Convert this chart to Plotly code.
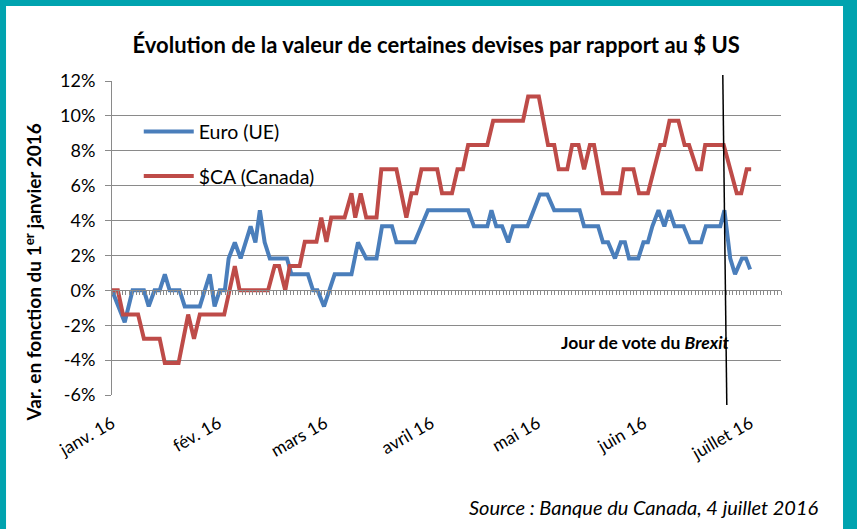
import plotly.graph_objects as go

# ---- data (days since 1 Jan 2016, % change vs 1 Jan 2016) ----
euro_jour = [0, 3.7, 6, 9.3, 10.7, 12.4, 13.9, 15.4, 16.8, 19.7, 21.2, 25.6, 28.5, 29.9, 31.4, 32.9,
             34, 35.8, 37.5, 40.4, 41.8, 43.1, 44.5, 46, 51, 52.3, 57.1, 58.6, 59.9, 61.8, 64.9, 69.8,
             71.7, 74.1, 77.1, 78.7, 81.6, 82.9, 88.2, 92.1, 103.8, 105.5, 109.4, 110.6, 112, 113.7,
             115.5, 116.9, 121.1, 124.7, 126.9, 128.9, 136.3, 137.6, 141.7, 143.1, 144.6, 146.6, 148.3,
             149.5, 150.7, 153.4, 154.9, 156.2, 157.5, 159.3, 161, 162.4, 164, 166.6, 168.5, 171.7,
             173.1, 177.3, 178.5, 180.2, 181.6, 183.6, 184.8, 186]
euro_var = [0, -1.83, 0, 0, -0.92, 0, 0, 0.92, 0, 0, -0.92, -0.92, 0.92, -0.92, 0, 0,
            1.83, 2.75, 1.83, 3.67, 2.75, 4.59, 2.75, 1.83, 1.83, 0.92, 0.92, 0, 0, -0.92, 0.92, 0.92,
            2.75, 1.83, 1.83, 3.67, 3.67, 2.75, 2.75, 4.59, 4.59, 3.67, 3.67, 4.59, 3.67, 3.67,
            2.75, 3.67, 3.67, 5.5, 5.5, 4.59, 4.59, 3.67, 3.67, 2.75, 2.75, 1.83, 2.75,
            2.75, 1.83, 1.83, 2.75, 2.75, 3.67, 4.59, 3.67, 4.59, 3.67, 3.67, 2.75, 2.75,
            3.67, 3.67, 4.59, 1.83, 0.92, 1.83, 1.83, 1.2]

cad_jour = [0, 1.7, 3.2, 7.6, 9.3, 13.9, 15.4, 19.4, 22.2, 23.9, 25.6, 32.7, 35.8, 37.2, 45.5, 47.4,
            48.7, 50.5, 51.8, 54.7, 56.2, 59.6, 61, 62.5, 63.9, 67.8, 69.8, 70.9, 72.5, 74.1, 77.1,
            78.5, 82.9, 85.8, 87.3, 88.7, 90.2, 94.8, 96.2, 99.1, 100.7, 102.3, 103.8, 109.4, 111.1,
            119.8, 121.3, 124.4, 127.1, 128.9, 130.2, 132.7, 134.1, 136, 137.6, 139.3, 140.5, 143.1,
            148, 149.1, 152, 153.6, 156.2, 159.8, 161, 162.5, 165.1, 166.9, 168.2, 170.5, 171.7,
            172.9, 178.3, 180.2, 182.1, 183.4, 185, 186.3]
cad_var = [0, 0, -1.39, -1.39, -2.78, -2.78, -4.17, -4.17, -1.39, -2.78, -1.39, -1.39, 1.39, 0, 0, 1.39,
           1.39, 0, 1.39, 1.39, 2.78, 2.78, 4.17, 2.78, 4.17, 4.17, 5.56, 4.17, 5.56, 4.17, 4.17,
           6.94, 6.94, 4.17, 5.56, 5.56, 6.94, 6.94, 5.56, 5.56, 6.94, 6.94, 8.33, 8.33, 9.72,
           9.72, 11.11, 11.11, 8.33, 8.33, 6.94, 6.94, 8.33, 8.33, 6.94, 8.33, 8.33, 5.56,
           5.56, 6.94, 6.94, 5.56, 5.56, 8.33, 8.33, 9.72, 9.72, 8.33, 8.33, 6.94, 6.94,
           8.33, 8.33, 6.94, 5.56, 5.56, 6.94, 6.94]

mois_pos = [0, 31, 62, 93, 124, 155, 186]
mois_labels = ["janv. 16", "fév. 16", "mars 16", "avril 16", "mai 16", "juin 16", "juillet 16"]
y_ticks = [-6, -4, -2, 0, 2, 4, 6, 8, 10, 12]

FONT = "Lato, Carlito, Calibri, sans-serif"
GRID = "#8a8a8a"
TEAL = "#00A3AF"

fig = go.Figure()
fig.add_trace(go.Scatter(x=euro_jour, y=euro_var, mode="lines", name="Euro (UE)",
                         line=dict(color="#4A7EBB", width=4), legendgroup="a"))
fig.add_trace(go.Scatter(x=cad_jour, y=cad_var, mode="lines", name="$CA (Canada)",
                         line=dict(color="#BE4B48", width=4), legendgroup="b"))
# helper trace so the zero-line axis with daily ticks is drawn
fig.add_trace(go.Scatter(x=[None], y=[None], xaxis="x2", showlegend=False, hoverinfo="skip"))

fig.update_layout(
    width=857, height=529,
    margin=dict(l=112, r=76, t=81, b=134),
    paper_bgcolor="white", plot_bgcolor="white",
    font=dict(family=FONT, size=17, color="black"),
    title=dict(text="<b>Évolution de la valeur de certaines devises par rapport au $ US</b>",
               x=0.509, xanchor="center", y=0.915, yref="container", yanchor="middle",
               font=dict(family=FONT, size=22, color="black")),
    xaxis=dict(range=[0, 195], tickmode="array", tickvals=mois_pos, ticktext=mois_labels,
               tickangle=-30, showgrid=False, zeroline=False, showline=False, ticks="",
               tickfont=dict(size=17.5), ticklabelstandoff=14, automargin=False),
    xaxis2=dict(range=[0, 195], overlaying="x", anchor="free", position=1/3, side="bottom",
                showline=True, linecolor=GRID, linewidth=1, ticks="outside", tickmode="linear",
                tick0=0, dtick=1, ticklen=4, tickcolor=GRID, tickwidth=1,
                showticklabels=False, showgrid=False, zeroline=False, automargin=False),
    yaxis=dict(range=[-6, 12], tickmode="array", tickvals=y_ticks,
               ticktext=[f"{v}%" for v in y_ticks], showgrid=True, gridcolor=GRID, gridwidth=1,
               zeroline=False, showline=True, linecolor=GRID, ticks="outside", ticklen=6,
               tickcolor=GRID, ticklabelstandoff=6, tickfont=dict(size=18), automargin=False),
    legend=dict(x=0.04, y=0.9, xanchor="left", yanchor="top", bgcolor="rgba(0,0,0,0)",
                font=dict(size=19.5), tracegroupgap=16, itemwidth=50),
    showlegend=True,
)

# y-axis title (placed as in the reference, slightly below the plot centre)
fig.add_annotation(text="<b>Var. en fonction du 1<sup>er</sup> janvier 2016</b>", xref="paper",
                   yref="paper", x=-0.118, y=0.39, textangle=-90, showarrow=False,
                   xanchor="center", yanchor="middle", font=dict(family=FONT, size=19, color="black"))

# Brexit vote marker
fig.add_shape(type="line", xref="paper", yref="paper", x0=0.913, y0=1.019, x1=0.919, y1=-0.032,
              line=dict(color="black", width=1.5))
fig.add_annotation(text="<b>Jour de vote du <i>Brexit</i></b>", xref="paper", yref="paper",
                   x=0.927, y=0.166, xanchor="right", yanchor="middle", showarrow=False,
                   font=dict(family=FONT, size=17.5, color="black"))
fig.add_annotation(text="<i>Source : Banque du Canada, 4 juillet 2016</i>", xref="paper", yref="paper",
                   x=1.058, y=-0.357, xanchor="right", yanchor="middle", showarrow=False,
                   font=dict(family=FONT, size=20, color="black"))

# teal frame
for x0, x1, y0, y1 in [(-0.1674, -0.1584, -0.43, 1.26), (1.0927, 1.12, -0.43, 1.26),
                       (-0.1674, 1.12, 1.2389, 1.26)]:
    fig.add_shape(type="rect", xref="paper", yref="paper", x0=x0, x1=x1, y0=y0, y1=y1,
                  fillcolor=TEAL, line=dict(width=0), layer="above")

fig.write_html("out.html", config={"displayModeBar": False},
               post_script="document.body.style.margin='0';")
